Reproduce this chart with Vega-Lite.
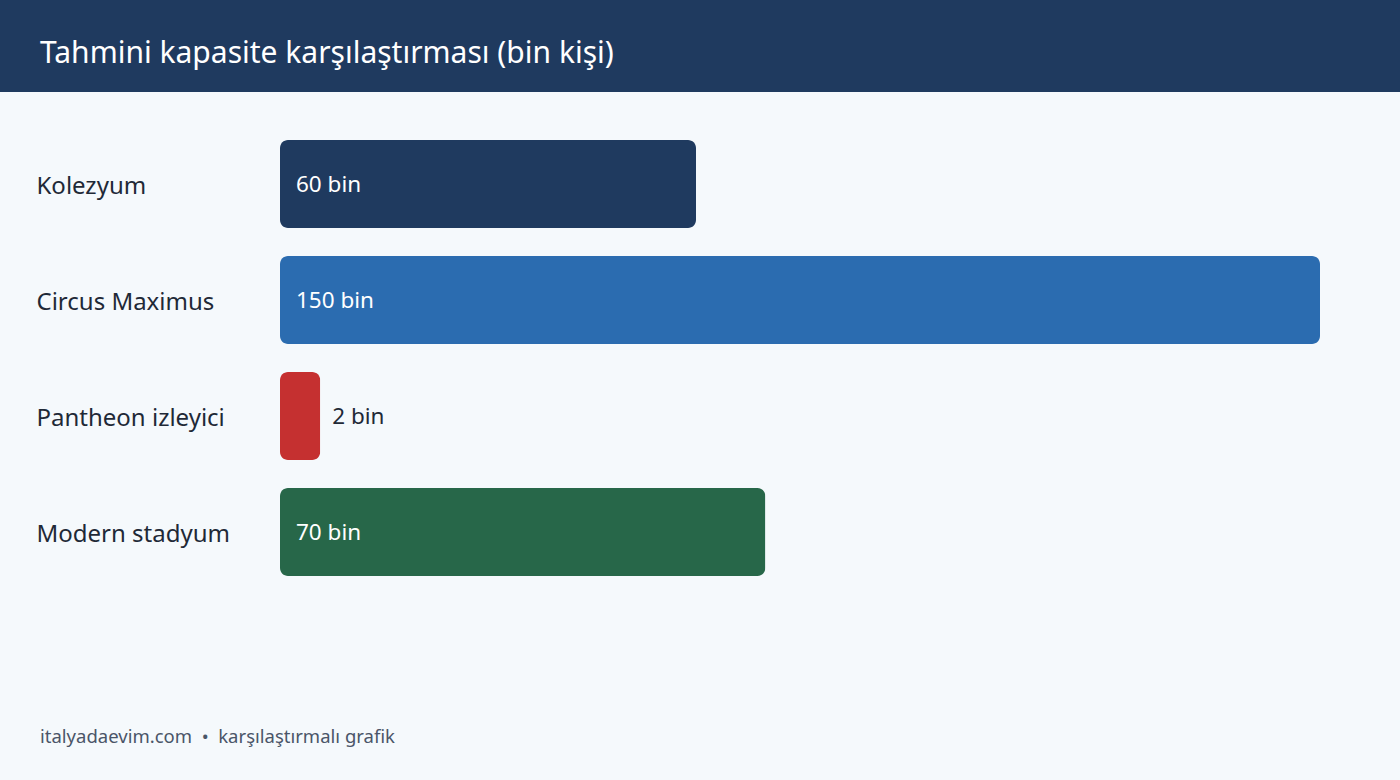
{
  "$schema": "https://vega.github.io/schema/vega-lite/v6.json",
  "background": "#f5f9fc",
  "padding": 0,
  "spacing": 0,
  "bounds": "flush",
  "config": {
    "view": {"stroke": null},
    "font": "Noto Sans",
    "text": {"font": "Noto Sans"},
    "axis": {"labelFont": "Noto Sans"},
    "title": {"font": "Noto Sans"}
  },
  "datasets": {
    "venues": [
      {"yer": "Kolezyum", "kapasite": 60, "etiket": "60 bin"},
      {"yer": "Circus Maximus", "kapasite": 150, "etiket": "150 bin"},
      {"yer": "Pantheon izleyici", "kapasite": 2, "etiket": "2 bin"},
      {"yer": "Modern stadyum", "kapasite": 70, "etiket": "70 bin"}
    ]
  },
  "vconcat": [
    {
      "width": 1400,
      "height": 92,
      "data": {"values": [{"band": "header"}]},
      "title": {
        "text": "Tahmini kapasite karşılaştırması (bin kişi)",
        "orient": "top",
        "anchor": "start",
        "frame": "group",
        "offset": -93,
        "baseline": "alphabetic",
        "dx": 40,
        "fontSize": 30,
        "fontWeight": "normal",
        "color": "#ffffff"
      },
      "mark": {"type": "rect", "color": "#1f3a5f"},
      "encoding": {}
    },
    {
      "width": 1400,
      "height": 688,
      "data": {"name": "venues"},
      "title": {
        "text": "italyadaevim.com \u00a0•\u00a0 karşılaştırmalı grafik",
        "orient": "bottom",
        "anchor": "start",
        "frame": "group",
        "offset": -37,
        "baseline": "alphabetic",
        "dx": 40,
        "fontSize": 18.5,
        "fontWeight": "normal",
        "color": "#4a5568"
      },
      "transform": [
        {"calculate": "max(datum.kapasite, 5.8)", "as": "cubuk"}
      ],
      "encoding": {
        "y": {
          "field": "yer",
          "type": "nominal",
          "sort": null,
          "title": null,
          "scale": {"range": [34, 498], "paddingInner": 0.2414, "paddingOuter": 0.1207},
          "axis": {
            "domain": false,
            "ticks": false,
            "labelAlign": "left",
            "labelPadding": -36,
            "labelLimit": 300,
            "labelFontSize": 24,
            "labelColor": "#1f2937",
            "labelBaseline": "middle",
            "labelOffset": 3
          }
        }
      },
      "layer": [
        {
          "mark": {"type": "bar", "cornerRadius": 8},
          "encoding": {
            "x": {
              "field": "cubuk",
              "type": "quantitative",
              "scale": {"domain": [0, 150], "range": [280, 1320], "nice": false},
              "axis": null
            },
            "color": {
              "field": "yer",
              "type": "nominal",
              "sort": null,
              "scale": {
                "domain": ["Kolezyum", "Circus Maximus", "Pantheon izleyici", "Modern stadyum"],
                "range": ["#1f3a5f", "#2b6cb0", "#c53030", "#276749"]
              },
              "legend": null
            },
            "tooltip": [
              {"field": "yer", "type": "nominal"},
              {"field": "kapasite", "type": "quantitative"}
            ]
          }
        },
        {
          "transform": [{"filter": "datum.kapasite >= 10"}],
          "mark": {"type": "text", "align": "left", "baseline": "middle", "dx": 16, "dy": 1, "fontSize": 22.5, "color": "#ffffff"},
          "encoding": {
            "x": {"datum": 0, "type": "quantitative"},
            "text": {"field": "etiket"}
          }
        },
        {
          "transform": [{"filter": "datum.kapasite < 10"}],
          "mark": {"type": "text", "align": "left", "baseline": "middle", "dx": 12, "dy": 1, "fontSize": 22.5, "color": "#1f2937"},
          "encoding": {
            "x": {"field": "cubuk", "type": "quantitative"},
            "text": {"field": "etiket"}
          }
        }
      ]
    }
  ]
}
